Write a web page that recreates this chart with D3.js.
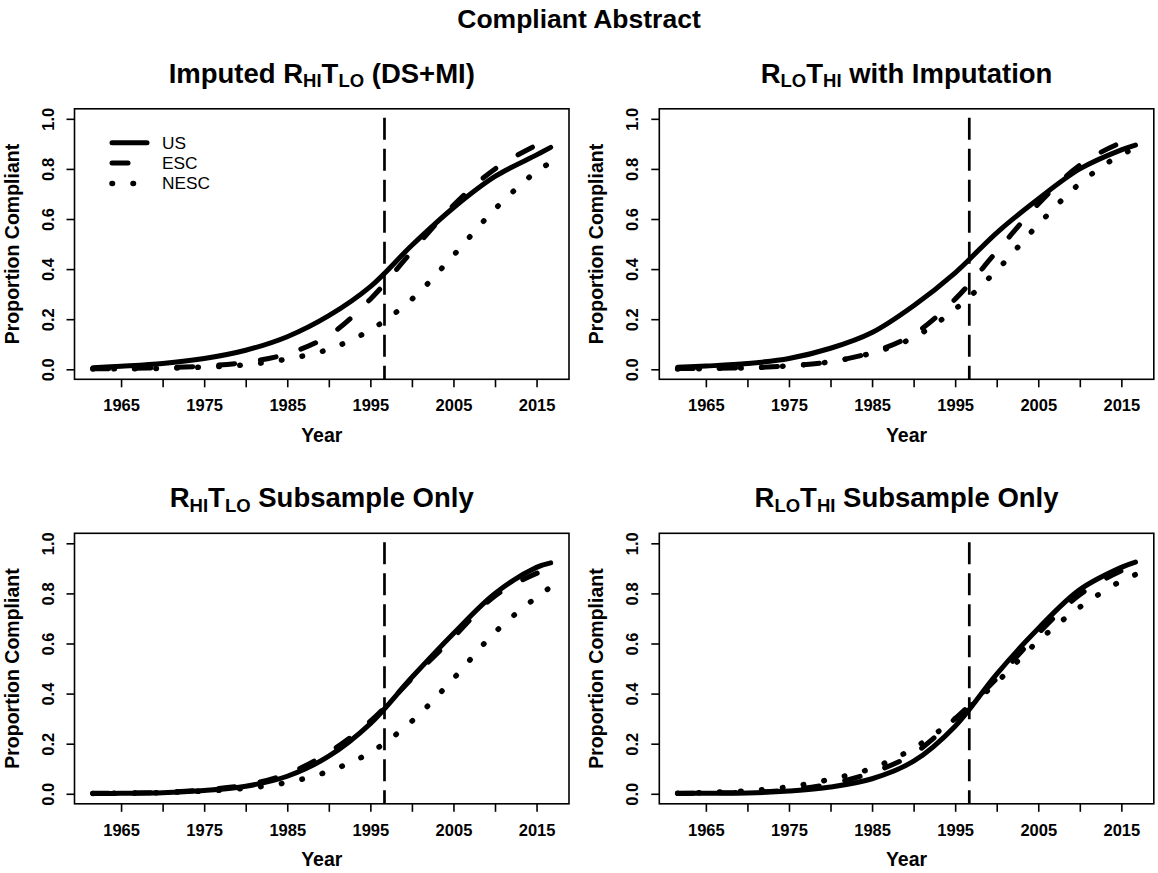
<!DOCTYPE html>
<html>
<head>
<meta charset="utf-8">
<script src="https://cdn.jsdelivr.net/npm/d3@7"></script>
<style>
  body { margin: 0; background: #fff; }
  svg text { font-family: "Liberation Sans", Arial, Helvetica, sans-serif; fill: #000; white-space: pre; }
</style>
</head>
<body>
<div id="chart"></div>
<script>
// values
const years = [1961.6, 1965, 1970, 1975, 1980, 1985, 1990, 1995, 2000, 2005, 2010, 2015, 2016.7]
const seriesNames = ['US', 'ESC', 'NESC']

// Imputed RHITLO (DS+MI)
const p1US = [0.006, 0.012, 0.023, 0.043, 0.076, 0.13, 0.214, 0.33, 0.495, 0.645, 0.77, 0.856, 0.886]
const p1ESC = [0.002, 0.003, 0.006, 0.013, 0.028, 0.062, 0.135, 0.28, 0.47, 0.655, 0.80, 0.895, 0.92]
const p1NESC = [0.001, 0.002, 0.004, 0.009, 0.018, 0.041, 0.08, 0.157, 0.28, 0.455, 0.64, 0.79, 0.825]

// RLOTHI with Imputation
const p2US = [0.008, 0.013, 0.023, 0.043, 0.084, 0.147, 0.254, 0.385, 0.545, 0.68, 0.80, 0.876, 0.895]
const p2ESC = [0.003, 0.004, 0.006, 0.014, 0.03, 0.068, 0.14, 0.28, 0.47, 0.66, 0.815, 0.905, 0.92]
const p2NESC = [0.001, 0.003, 0.006, 0.014, 0.03, 0.065, 0.127, 0.24, 0.395, 0.578, 0.742, 0.858, 0.88]

// RHITLO Subsample Only
const p3US = [0.001, 0.002, 0.004, 0.013, 0.03, 0.07, 0.15, 0.28, 0.465, 0.64, 0.80, 0.904, 0.922]
const p3ESC = [0.002, 0.003, 0.006, 0.016, 0.035, 0.08, 0.165, 0.29, 0.46, 0.625, 0.79, 0.88, 0.898]
const p3NESC = [0.001, 0.002, 0.005, 0.011, 0.022, 0.045, 0.09, 0.165, 0.29, 0.46, 0.645, 0.785, 0.825]

// RLOTHI Subsample Only
const p4US = [0.001, 0.002, 0.003, 0.011, 0.027, 0.06, 0.13, 0.27, 0.478, 0.66, 0.815, 0.904, 0.925]
const p4ESC = [0.002, 0.003, 0.006, 0.015, 0.04, 0.085, 0.16, 0.30, 0.46, 0.64, 0.795, 0.89, 0.91]
const p4NESC = [0.002, 0.005, 0.012, 0.028, 0.058, 0.102, 0.182, 0.30, 0.445, 0.61, 0.745, 0.85, 0.875]

const policyYear = 1996.7
const xTicks = [1965, 1970, 1975, 1980, 1985, 1990, 1995, 2000, 2005, 2010, 2015]
const xLabels = [1965, 1975, 1985, 1995, 2005, 2015]
const yTicks = [0, 0.2, 0.4, 0.6, 0.8, 1.0]

const mainTitle = 'Compliant Abstract'
// [text, isSubscript]
const panelTitles = [
  [['Imputed R', 0], ['HI', 1], ['T', 0], ['LO', 1], [' (DS+MI)', 0]],
  [['R', 0], ['LO', 1], ['T', 0], ['HI', 1], [' with Imputation', 0]],
  [['R', 0], ['HI', 1], ['T', 0], ['LO', 1], [' Subsample Only', 0]],
  [['R', 0], ['LO', 1], ['T', 0], ['HI', 1], [' Subsample Only', 0]]
]
const panelSeries = [
  [p1US, p1ESC, p1NESC],
  [p2US, p2ESC, p2NESC],
  [p3US, p3ESC, p3NESC],
  [p4US, p4ESC, p4NESC]
]

const width = 1158
const height = 873
const boxW = 494.5
const boxH = 270.5
const colX = [74.5, 659.3]
const rowY = [108.8, 533.3]
const ink = '#000'

const seriesStyle = [
  { dash: null, width: 5 },
  { dash: '16,26', width: 5 },
  { dash: '0.5,20.5', width: 5.5 }
]

const svg = d3.select('#chart')
  .append('svg')
  .attr('width', width)
  .attr('height', height)

svg.append('text')
  .attr('x', width / 2)
  .attr('y', 28)
  .attr('text-anchor', 'middle')
  .attr('font-size', 26.5)
  .attr('font-weight', 'bold')
  .text(mainTitle)

// R-style 4% padding on both axes
const [x0, x1] = d3.extent(years)
const xPad = (x1 - x0) * 0.04
const x = d3.scaleLinear().domain([x0 - xPad, x1 + xPad]).range([0, boxW])
const y = d3.scaleLinear().domain([-0.04, 1.04]).range([boxH, 0])

const line = d3.line()
  .x(d => x(d[0]))
  .y(d => y(d[1]))
  .curve(d3.curveCatmullRom.alpha(0.5))

const drawPanel = (idx) => {
  const g = svg.append('g')
    .attr('transform', `translate(${colX[idx % 2]},${rowY[Math.floor(idx / 2)]})`)

  // title with subscripts
  const title = g.append('text')
    .attr('x', boxW / 2)
    .attr('y', -26)
    .attr('text-anchor', 'middle')
    .attr('font-weight', 'bold')
    .attr('font-size', 27.5)
  let lowered = false
  panelTitles[idx].forEach(([txt, sub]) => {
    const ts = title.append('tspan').text(txt)
    if (sub) {
      ts.attr('font-size', 18.5)
      if (!lowered) ts.attr('dy', 4.6)
      lowered = true
    } else if (lowered) {
      ts.attr('dy', -4.6)
      lowered = false
    }
  })

  const xAxis = g.append('g')
    .attr('transform', `translate(0,${boxH})`)
    .call(d3.axisBottom(x).tickValues(xTicks).tickSize(8).tickPadding(12)
      .tickFormat(d => xLabels.includes(d) ? String(d) : ''))
    .attr('font-family', null)
    .attr('font-size', 16.5)
    .attr('font-weight', 'bold')
  xAxis.select('.domain').remove()
  xAxis.selectAll('line').attr('stroke', ink).attr('stroke-width', 1.6)

  const yAxis = g.append('g')
    .call(d3.axisLeft(y).tickValues(yTicks).tickSize(8).tickFormat(d3.format('.1f')))
    .attr('font-family', null)
    .attr('font-size', 16.5)
    .attr('font-weight', 'bold')
  yAxis.select('.domain').remove()
  yAxis.selectAll('line').attr('stroke', ink).attr('stroke-width', 1.6)
  yAxis.selectAll('text')
    .attr('x', null)
    .attr('dy', null)
    .attr('text-anchor', 'middle')
    .attr('transform', 'translate(-21,0) rotate(-90)')

  g.append('rect')
    .attr('width', boxW)
    .attr('height', boxH)
    .attr('fill', 'none')
    .attr('stroke', ink)
    .attr('stroke-width', 1.6)

  g.append('text')
    .attr('x', boxW / 2)
    .attr('y', boxH + 62.7)
    .attr('text-anchor', 'middle')
    .attr('font-size', 19.5)
    .attr('font-weight', 'bold')
    .text('Year')

  g.append('text')
    .attr('transform', `translate(-56,${boxH / 2}) rotate(-90)`)
    .attr('text-anchor', 'middle')
    .attr('font-size', 19.5)
    .attr('font-weight', 'bold')
    .text('Proportion Compliant')

  // policy year marker
  g.append('line')
    .attr('x1', x(policyYear))
    .attr('x2', x(policyYear))
    .attr('y1', 0)
    .attr('y2', boxH)
    .attr('stroke', ink)
    .attr('stroke-width', 2.7)
    .attr('stroke-dasharray', '22,9')
    .attr('stroke-dashoffset', 22)

  panelSeries[idx].forEach((vals, i) => {
    g.append('path')
      .datum(years.map((yr, j) => [yr, vals[j]]))
      .attr('d', line)
      .attr('fill', 'none')
      .attr('stroke', ink)
      .attr('stroke-width', seriesStyle[i].width)
      .attr('stroke-linecap', 'round')
      .attr('stroke-dasharray', seriesStyle[i].dash)
  })

  if (idx === 0) {
    const legend = g.append('g').attr('transform', 'translate(37.5,34)')
    seriesNames.forEach((name, i) => {
      const row = legend.append('g').attr('transform', `translate(0,${i * 20.3})`)
      row.append('line')
        .attr('x1', 0)
        .attr('x2', 35)
        .attr('stroke', ink)
        .attr('stroke-width', seriesStyle[i].width)
        .attr('stroke-linecap', 'round')
        .attr('stroke-dasharray', seriesStyle[i].dash)
      row.append('text')
        .attr('x', 50)
        .attr('y', 6)
        .attr('font-size', 17.3)
        .text(name)
    })
  }
}

panelTitles.forEach((t, i) => drawPanel(i))
</script>
</body>
</html>
